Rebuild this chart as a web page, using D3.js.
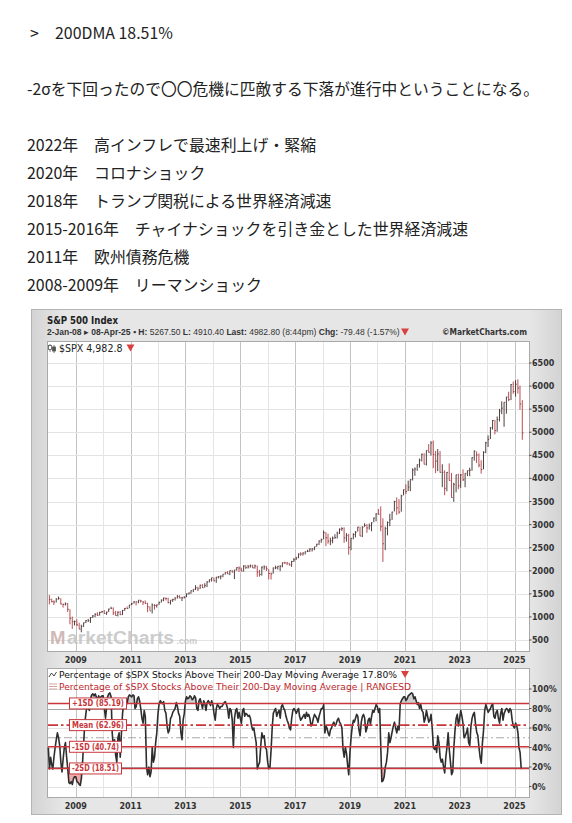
<!DOCTYPE html>
<html>
<head>
<meta charset="utf-8">
<script src="https://cdn.jsdelivr.net/npm/d3@7"></script>
<style>
body { margin: 0; background: #fff; }
svg text { font-family: "DejaVu Sans", Verdana, sans-serif; }
.jp { font-family: "Noto Sans CJK JP", sans-serif; font-size: 15.9px; fill: #222; }
</style>
</head>
<body>
<script>
// note text above the chart
const noteHead = ">";
const noteRatio = "200DMA 18.51%";
const noteLine = "-2σを下回ったので〇〇危機に匹敵する下落が進行中ということになる。";
const eventYears = ["2022年", "2020年", "2018年", "2015-2016年", "2011年", "2008-2009年"];
const eventNames = ["高インフレで最速利上げ・緊縮", "コロナショック", "トランプ関税による世界経済減速",
  "チャイナショックを引き金とした世界経済減速", "欧州債務危機", "リーマンショック"];

// S&P 500 monthly bars, Jan 2008 .. Apr 2025
const spxHigh = [
  1471.8,1396.0,1359.7,1404.0,1440.2,1404.1,1292.2,1313.2,1303.0,1167.0,1007.5,918.9,
  943.9,875.0,832.0,876.0,930.2,956.2,996.7,1039.5,1080.2,1101.4,1113.7,1130.4,
  1150.5,1112.4,1180.7,1219.8,1206.0,1131.2,1120.9,1129.2,1150.8,1196.1,1227.1,1262.6,
  1302.7,1344.1,1332.3,1364.0,1370.6,1345.2,1356.5,1307.4,1230.7,1292.7,1277.6,1269.4,
  1333.5,1378.0,1419.2,1422.4,1415.3,1363.5,1392.0,1426.7,1474.5,1471.0,1434.3,1448.0,
  1509.9,1530.9,1570.3,1597.6,1687.2,1654.2,1698.8,1709.7,1729.9,1775.2,1813.6,1849.4,
  1850.8,1867.9,1884.0,1897.3,1924.0,1968.2,1991.4,2005.0,2019.3,2018.2,2075.8,2093.6,
  2064.4,2119.6,2117.5,2125.9,2134.7,2129.9,2132.8,2112.7,2020.9,2094.3,2116.5,2104.3,
  2038.2,1963.0,2072.2,2111.1,2103.5,2120.6,2177.1,2193.8,2187.9,2169.6,2214.1,2277.5,
  2301.0,2371.5,2401.0,2398.2,2418.7,2453.8,2484.0,2490.9,2519.4,2583.0,2657.7,2695.0,
  2872.9,2836.0,2801.9,2717.5,2742.2,2791.5,2848.0,2916.5,2940.9,2939.9,2815.2,2800.2,
  2708.0,2813.5,2860.3,2949.5,2954.1,2964.2,3028.0,3013.6,3022.0,3050.1,3154.3,3247.9,
  3337.8,3393.5,3136.7,2954.9,3068.7,3233.1,3280.0,3514.8,3588.1,3549.9,3646.0,3760.2,
  3870.9,3950.4,3983.9,4218.8,4238.0,4302.4,4430.0,4537.4,4545.9,4608.1,4743.8,4808.9,
  4818.6,4595.3,4637.3,4593.5,4307.7,4177.5,4140.2,4325.3,4119.3,3905.4,4080.1,4101.0,
  4094.2,4195.4,4110.8,4170.1,4231.1,4458.5,4607.1,4584.6,4541.3,4393.6,4587.6,4793.3,
  4931.1,5111.1,5264.9,5264.0,5341.9,5505.5,5669.7,5651.6,5767.4,5878.5,6044.2,6100.0,
  6128.2,6147.4,6009.9,5695.3
];
const spxLow = [
  1270.1,1316.8,1257.0,1312.0,1373.1,1272.0,1200.4,1247.4,1106.4,839.8,741.0,815.7,
  804.3,734.5,666.8,783.3,866.1,888.9,869.3,978.5,992.3,1020.2,1029.4,1086.0,
  1071.6,1044.5,1105.4,1170.7,1040.8,1028.3,1010.9,1040.0,1039.7,1131.9,1173.0,1186.6,
  1257.6,1289.1,1249.1,1294.7,1311.8,1258.1,1282.9,1101.5,1136.4,1074.8,1158.7,1202.4,
  1258.9,1312.0,1340.0,1357.4,1292.0,1266.7,1325.4,1354.7,1396.6,1403.3,1343.4,1398.1,
  1426.2,1485.0,1501.5,1536.0,1581.3,1560.3,1604.6,1627.5,1633.4,1646.5,1746.2,1767.0,
  1770.5,1737.9,1834.4,1814.4,1859.8,1915.0,1930.7,1904.8,1964.0,1820.7,2001.0,1972.6,
  1988.1,1980.9,2039.7,2048.4,2067.9,2056.3,2044.0,1867.0,1871.9,1893.7,2019.4,1993.3,
  1812.3,1810.1,1937.1,2033.8,2025.9,1991.7,2074.0,2147.6,2119.1,2114.7,2083.8,2187.9,
  2233.6,2271.7,2322.3,2329.0,2352.7,2405.7,2407.7,2417.4,2446.6,2520.4,2557.5,2605.5,
  2682.4,2532.7,2585.9,2553.8,2594.6,2692.0,2699.0,2795.1,2864.1,2603.5,2631.1,2346.6,
  2444.0,2681.8,2722.3,2848.6,2750.5,2728.8,2952.2,2822.1,2891.9,2855.9,3050.7,3070.3,
  3214.6,2855.8,2191.9,2447.5,2766.6,2965.7,3101.2,3284.5,3209.5,3233.9,3279.7,3633.4,
  3662.7,3725.6,3723.3,3955.3,4056.9,4164.4,4233.1,4367.7,4305.9,4278.9,4560.0,4495.1,
  4222.6,4114.7,4157.9,4124.3,3810.3,3636.9,3721.6,3954.5,3584.1,3491.6,3698.2,3764.5,
  3794.3,3943.1,3808.9,4049.0,4048.3,4166.2,4385.0,4335.3,4238.6,4103.8,4197.7,4546.5,
  4682.1,4853.4,5056.8,4953.6,5011.0,5234.3,5391.0,5119.3,5402.6,5674.0,5696.5,5832.3,
  5773.3,5837.7,5488.7,4835.0
];
const spxClose = [
  1378.55,1330.63,1322.70,1385.59,1400.38,1280.00,1267.38,1282.83,1166.36,968.75,896.24,903.25,
  825.88,735.09,797.87,872.81,919.14,919.32,987.48,1020.62,1057.08,1036.19,1095.63,1115.10,
  1073.87,1104.49,1169.43,1186.69,1089.41,1030.71,1101.60,1049.33,1141.20,1183.26,1180.55,1257.64,
  1286.12,1327.22,1325.83,1363.61,1345.20,1320.64,1292.28,1218.89,1131.42,1253.30,1246.96,1257.60,
  1312.41,1365.68,1408.47,1397.91,1310.33,1362.16,1379.32,1406.58,1440.67,1412.16,1416.18,1426.19,
  1498.11,1514.68,1569.19,1597.57,1630.74,1606.28,1685.73,1632.97,1681.55,1756.54,1805.81,1848.36,
  1782.59,1859.45,1872.34,1883.95,1923.57,1960.23,1930.67,2003.37,1972.29,2018.05,2067.56,2058.90,
  1994.99,2104.50,2067.89,2085.51,2107.39,2063.11,2103.84,1972.18,1920.03,2079.36,2080.41,2043.94,
  1940.24,1932.23,2059.74,2065.30,2096.95,2098.86,2173.60,2170.95,2168.27,2126.15,2198.81,2238.83,
  2278.87,2363.64,2362.72,2384.20,2411.80,2423.41,2470.30,2471.65,2519.36,2575.26,2647.58,2673.61,
  2823.81,2713.83,2640.87,2648.05,2705.27,2718.37,2816.29,2901.52,2913.98,2711.74,2760.17,2506.85,
  2704.10,2784.49,2834.40,2945.83,2752.06,2941.76,2980.38,2926.46,2976.74,3037.56,3140.98,3230.78,
  3225.52,2954.22,2584.59,2912.43,3044.31,3100.29,3271.12,3500.31,3363.00,3269.96,3621.63,3756.07,
  3714.24,3811.15,3972.89,4181.17,4204.11,4297.50,4395.26,4522.68,4307.54,4605.38,4567.00,4766.18,
  4515.55,4373.94,4530.41,4131.93,4132.15,3785.38,4130.29,3955.00,3585.62,3871.98,4080.11,3839.50,
  4076.60,3970.15,4109.31,4169.48,4179.83,4450.38,4588.96,4507.66,4288.05,4193.80,4567.80,4769.83,
  4845.65,5096.27,5254.35,5035.69,5277.51,5460.48,5522.30,5648.40,5762.48,5705.45,6032.38,5881.63,
  6040.53,5954.50,5611.85,4982.77
];

// % of $SPX stocks above 200DMA, two readings per month (1st, 16th), Jan 2008 .. Apr 2025
const breadthPct = [
  40,18,30,22,18,30,40,48,55,50,42,25,15,28,40,45,30,18,4,3,5,2,8,10,
  10,5,4,2,1,8,25,45,65,75,85,80,78,90,94,95,93,95,92,88,93,90,92,93,
  93,80,70,82,92,95,96,92,55,40,48,32,25,50,55,30,55,75,85,88,88,85,92,94,
  93,92,94,93,80,82,90,92,88,80,70,65,78,72,20,12,20,10,15,40,25,30,45,55,
  75,85,88,86,85,87,78,75,62,55,58,70,72,76,78,80,86,82,75,72,55,48,68,75,
  88,92,90,91,93,92,89,90,93,91,80,78,88,90,85,80,88,85,78,86,88,86,83,88,
  84,75,68,80,84,83,80,82,82,84,86,87,84,80,70,80,78,68,40,70,78,80,70,76,
  70,65,78,80,72,75,74,72,73,70,62,58,60,52,45,18,22,25,42,55,50,52,40,38,
  25,18,20,38,60,75,78,80,72,76,78,70,82,84,80,78,72,68,65,60,58,70,78,80,
  78,75,78,80,72,68,70,72,74,70,76,72,74,70,62,64,70,74,72,70,66,72,76,80,
  80,84,55,62,60,55,52,58,60,64,66,62,64,68,70,66,64,60,38,30,40,34,22,12,
  35,50,62,68,66,70,74,72,58,52,66,72,74,70,56,60,68,70,64,72,78,76,80,84,
  82,76,80,40,5,6,10,20,25,35,55,45,50,56,62,66,60,55,62,58,85,88,90,92,
  92,88,90,93,94,95,96,95,90,92,88,84,86,80,84,78,76,66,70,78,72,66,68,74,
  60,40,38,42,35,52,45,30,25,28,20,14,30,40,55,38,25,12,15,40,58,70,74,62,
  70,78,72,64,50,52,55,60,45,42,62,70,74,76,64,56,52,40,30,24,45,58,78,84,
  80,76,78,80,83,85,72,70,76,78,70,65,75,80,68,75,78,80,79,76,80,78,68,62,
  60,65,62,55,40,35,17.8
];

// RANGESD levels
const sdNames = ["+1SD", "Mean", "-1SD", "-2SD"];
const sdValues = [85.19, 62.96, 40.74, 18.51];

// axis ticks
const priceTicks = [500, 1000, 1500, 2000, 2500, 3000, 3500, 4000, 4500, 5000, 5500, 6000, 6500];
const pctTicks = [0, 20, 40, 60, 80, 100];
const gridYears = d3.range(2009, 2026);
const labelYears = [2009, 2011, 2013, 2015, 2017, 2019, 2021, 2023, 2025];

const W = 572, H = 823;
const plotL = 47, plotR = 529;
const top1 = 341, bot1 = 651, top2 = 668, bot2 = 797;
const red = "#c8363b";

const svg = d3.select("body").append("svg").attr("width", W).attr("height", H);
const defs = svg.append("defs");

function fit(t, w) { return t.attr("textLength", w).attr("lengthAdjust", "spacingAndGlyphs"); }
// scale the font so the natural width becomes w
function sizeTo(t, w, base) {
  const len = t.node().getComputedTextLength();
  t.attr("font-size", (base * w / len).toFixed(2) + "px");
  return t;
}
function triangle(cx, cy) {
  svg.append("path").attr("d", `M${cx - 4},${cy - 3}L${cx + 4},${cy - 3}L${cx},${cy + 4}Z`).attr("fill", "#d9413f");
}

// ---- note text
svg.append("text").attr("class", "jp").attr("x", 30).attr("y", 39).text(noteHead);
svg.append("text").attr("class", "jp").attr("x", 55).attr("y", 39).text(noteRatio);
fit(svg.append("text").attr("class", "jp").attr("x", 27).attr("y", 95).text(noteLine), 512);
svg.selectAll(".ev").data(eventYears).join("text")
  .attr("class", "jp ev")
  .attr("x", 27)
  .attr("y", (d, i) => 151 + i * 27.9)
  .text((d, i) => d + "\u3000" + eventNames[i]);

// ---- chart frame
const bg = defs.append("linearGradient").attr("id", "bg").attr("x1", 0).attr("x2", 1).attr("y1", 0).attr("y2", 0);
bg.append("stop").attr("offset", "0%").attr("stop-color", "#d3d3d3");
bg.append("stop").attr("offset", "6%").attr("stop-color", "#e6e6e6");
bg.append("stop").attr("offset", "94%").attr("stop-color", "#e6e6e6");
bg.append("stop").attr("offset", "100%").attr("stop-color", "#d3d3d3");
svg.append("rect").attr("x", 31.5).attr("y", 309.5).attr("width", 530).attr("height", 505)
  .attr("fill", "url(#bg)").attr("stroke", "#b4b4b4");

[[top1, bot1], [top2, bot2]].forEach(([t, b]) => {
  svg.append("rect").attr("x", plotL + 0.5).attr("y", t + 0.5).attr("width", plotR - plotL).attr("height", b - t)
    .attr("fill", "#fff").attr("stroke", "#a9a9a9");
});

// ---- scales
const x = d3.scaleTime().domain([new Date(2009, 0, 1), new Date(2025, 0, 1)]).range([75.8, 514.5]);
const yP = d3.scaleLinear().domain([500, 6500]).range([640, 363]);
const yB = d3.scaleLinear().domain([0, 100]).range([786.5, 689]);

// ---- grid
const grid = svg.append("g");
[[top1, bot1], [top2, bot2]].forEach(([t, b]) => {
  grid.append("g").selectAll("line").data(gridYears).join("line")
    .attr("x1", d => Math.round(x(new Date(d, 0, 1))) + 0.5)
    .attr("x2", d => Math.round(x(new Date(d, 0, 1))) + 0.5)
    .attr("y1", t + 1).attr("y2", b)
    .attr("stroke", d => d % 2 ? "#c3c3c3" : "#e5e5e5");
});
grid.append("g").selectAll("line").data(priceTicks).join("line")
  .attr("x1", plotL + 1).attr("x2", plotR)
  .attr("y1", d => Math.round(yP(d)) + 0.5).attr("y2", d => Math.round(yP(d)) + 0.5)
  .attr("stroke", "#e3e3e3");
grid.append("g").selectAll("line").data(pctTicks).join("line")
  .attr("x1", plotL + 1).attr("x2", plotR)
  .attr("y1", d => Math.round(yB(d)) + 0.5).attr("y2", d => Math.round(yB(d)) + 0.5)
  .attr("stroke", d => (d === 80 || d === 20) ? "#a8a8a8" : "#e3e3e3");
grid.append("line").attr("x1", plotL + 1).attr("x2", plotR)
  .attr("y1", yB(50)).attr("y2", yB(50))
  .attr("stroke", "#a8a8a8").attr("stroke-dasharray", "8,3,2,3");

// ---- axes (right side and years)
function styleTxt(s) {
  return s.attr("font-size", "8px").attr("font-weight", "bold").attr("fill", "#333");
}

styleTxt(svg.append("g").selectAll("text").data(priceTicks).join("text")
  .attr("x", 532).attr("y", d => yP(d) + 3).text(d => d));
svg.append("g").selectAll("line").data(priceTicks).join("line")
  .attr("x1", plotR).attr("x2", plotR + 2.5).attr("y1", d => yP(d)).attr("y2", d => yP(d))
  .attr("stroke", "#555");
styleTxt(svg.append("g").selectAll("text").data(pctTicks).join("text")
  .attr("x", 532).attr("y", d => yB(d) + 3).text(d => d + "%"));
svg.append("g").selectAll("line").data(pctTicks).join("line")
  .attr("x1", plotR).attr("x2", plotR + 2.5).attr("y1", d => yB(d)).attr("y2", d => yB(d))
  .attr("stroke", "#555");
[662.5, 808.5].forEach(by => {
  styleTxt(svg.append("g").selectAll("text").data(labelYears).join("text")
    .attr("x", d => x(new Date(d, 0, 1))).attr("y", by)
    .attr("text-anchor", "middle").text(d => d));
});

// ---- header
fit(svg.append("text").attr("x", 47).attr("y", 323.5).attr("font-size", "10px").attr("font-weight", "bold")
  .attr("fill", "#222").text("S&P 500 Index"), 71);
const sub = svg.append("text").attr("x", 47).attr("y", 334.5).attr("font-size", "10px").attr("fill", "#333")
  .style("font-family", "'Liberation Sans', Arial, sans-serif");
[["2-Jan-08", 1], [" \u25B8 ", 0], ["08-Apr-25", 1], [" \u25AA ", 0], ["H:", 1], [" 5267.50 ", 0], ["L:", 1],
 [" 4910.40 ", 0], ["Last:", 1], [" 4982.80 (8:44pm) ", 0], ["Chg:", 1], [" -79.48 (-1.57%)", 0]]
  .forEach(([s, b]) => sub.append("tspan").attr("font-weight", b ? "bold" : "normal").text(s));
sizeTo(sub, 352, 10);
triangle(405, 331.5);
fit(svg.append("text").attr("x", 527).attr("y", 334.5).attr("text-anchor", "end").attr("font-size", "8.5px")
  .attr("font-weight", "bold").attr("fill", "#333").text("\u00A9MarketCharts.com"), 85);

// ---- watermark (three pieces, sized by their natural width)
const wmFont = "'Liberation Sans', Arial, sans-serif";
[["M", 50, 15.5, "#c9adad"], ["arketCharts", 67, 107, "#c4c4c4"], [".com", 176.5, 20.5, "#c4c4c4"]]
  .forEach(([s, x0, w, c]) => {
    sizeTo(svg.append("text").attr("x", x0).attr("y", 644).attr("font-weight", "bold").attr("font-size", "20px")
      .style("font-family", wmFont).attr("fill", c).attr("opacity", 0.85).text(s), w, 20);
  });

// ---- price bars
const months = spxClose.map((d, i) => new Date(2008, i, 15));
const bars = svg.append("g");
bars.selectAll("line.hl").data(months).join("line").attr("class", "hl")
  .attr("x1", d => x(d)).attr("x2", d => x(d))
  .attr("y1", (d, i) => yP(spxHigh[i])).attr("y2", (d, i) => yP(spxLow[i]))
  .attr("stroke", (d, i) => i > 0 && spxClose[i] >= spxClose[i - 1] ? "#3a2a2a" : "#b23a40")
  .attr("stroke-width", 0.9);
bars.selectAll("line.cl").data(months).join("line").attr("class", "cl")
  .attr("x1", d => x(d)).attr("x2", d => x(d) + 1.2)
  .attr("y1", (d, i) => yP(spxClose[i])).attr("y2", (d, i) => yP(spxClose[i]))
  .attr("stroke", "#6a2a2e").attr("stroke-width", 0.8);

// upper legend
const ic = svg.append("g").attr("stroke", "#555").attr("stroke-width", 0.8);
ic.append("line").attr("x1", 50).attr("x2", 50).attr("y1", 344).attr("y2", 352);
ic.append("rect").attr("x", 48.5).attr("y", 345.5).attr("width", 3).attr("height", 4).attr("fill", "#fff");
ic.append("line").attr("x1", 54).attr("x2", 54).attr("y1", 345).attr("y2", 353);
ic.append("rect").attr("x", 52.5).attr("y", 347).attr("width", 3).attr("height", 4).attr("fill", "#555");
fit(svg.append("text").attr("x", 59).attr("y", 352).attr("font-size", "10px").attr("fill", "#222")
  .text("$SPX 4,982.8"), 63.5);
triangle(130.5, 347.5);

// ---- breadth panel
const halfMonths = breadthPct.map((d, i) => new Date(2008, Math.floor(i / 2), i % 2 ? 16 : 1));
const pts = breadthPct.map((v, i) => [halfMonths[i], v]);

defs.append("clipPath").attr("id", "hiClip").append("rect")
  .attr("x", plotL).attr("y", top2).attr("width", plotR - plotL).attr("height", yB(sdValues[0]) - top2);
defs.append("clipPath").attr("id", "loClip").append("rect")
  .attr("x", plotL).attr("y", yB(sdValues[3])).attr("width", plotR - plotL).attr("height", bot2 - yB(sdValues[3]));

svg.append("path").datum(pts).attr("clip-path", "url(#hiClip)").attr("fill", "#cfcfcf")
  .attr("d", d3.area().x(d => x(d[0])).y0(yB(sdValues[0])).y1(d => yB(d[1])));
svg.append("path").datum(pts).attr("clip-path", "url(#loClip)").attr("fill", "#f2a9a9")
  .attr("d", d3.area().x(d => x(d[0])).y0(yB(sdValues[3])).y1(d => yB(d[1])));

svg.append("path").datum(pts).attr("fill", "none").attr("stroke", "#2e2e2e").attr("stroke-width", 1.6)
  .attr("stroke-linejoin", "round")
  .attr("d", d3.line().x(d => x(d[0])).y(d => yB(d[1])));

svg.append("g").selectAll("line").data(sdValues).join("line")
  .attr("x1", plotL + 1).attr("x2", plotR)
  .attr("y1", d => yB(d)).attr("y2", d => yB(d))
  .attr("stroke", red).attr("stroke-width", 1.6)
  .attr("stroke-dasharray", (d, i) => i === 1 ? "10,3,2.5,3" : null);

sdNames.forEach((n, i) => {
  const cy = yB(sdValues[i]);
  const g = svg.append("g");
  const w = i < 2 ? 57 : 52;
  g.append("rect").attr("x", 69.5).attr("y", cy - 5.5).attr("height", 11).attr("width", w)
    .attr("fill", "#fff").attr("stroke", red);
  fit(g.append("text").attr("x", 69.5 + w / 2).attr("y", cy + 3).attr("text-anchor", "middle")
    .attr("font-size", "8.5px").attr("font-weight", "bold").attr("fill", red)
    .text(`${n} (${sdValues[i].toFixed(2)})`), w - 5);
});

// lower legend
svg.append("path").attr("d", "M49,677 L51.5,673 L54,676 L56.5,672").attr("fill", "none")
  .attr("stroke", "#333").attr("stroke-width", 0.9);
fit(svg.append("text").attr("x", 59).attr("y", 677.5).attr("font-size", "9.3px").attr("fill", "#111")
  .text("Percentage of $SPX Stocks Above Their 200-Day Moving Average 17.80%"), 338);
triangle(405, 674);
svg.append("g").selectAll("line").data([684, 686.5, 689]).join("line")
  .attr("x1", 49).attr("x2", 57).attr("y1", d => d).attr("y2", d => d)
  .attr("stroke", "#c99").attr("stroke-width", 0.9);
fit(svg.append("text").attr("x", 59).attr("y", 690).attr("font-size", "9.3px").attr("fill", "#c0282d")
  .text("Percentage of $SPX Stocks Above Their 200-Day Moving Average | RANGESD"), 352);
</script>
</body>
</html>
